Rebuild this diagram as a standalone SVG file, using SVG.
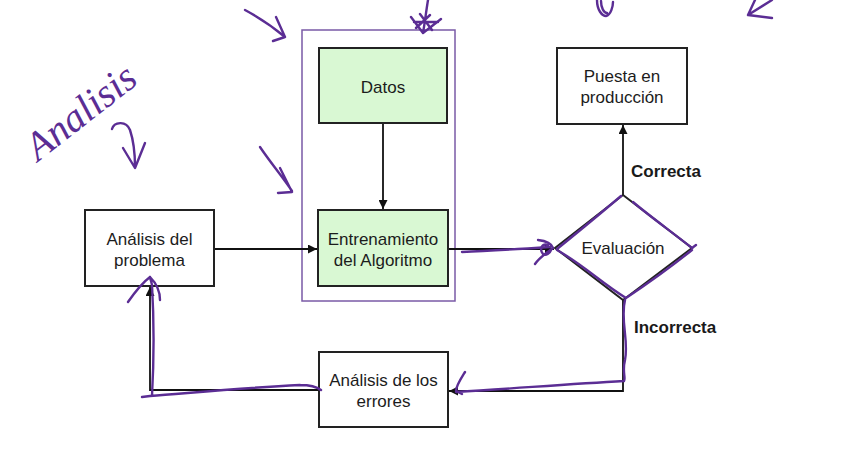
<svg xmlns="http://www.w3.org/2000/svg" width="855" height="462" viewBox="0 0 855 462">
<style>
.box{fill:#fff;stroke:#222;stroke-width:2}
.g{fill:#d9f8d3}
.t{font-family:"Liberation Sans",Arial,sans-serif;font-size:17px;fill:#1c1c1c;text-anchor:middle}
.b{font-family:"Liberation Sans",Arial,sans-serif;font-size:17px;font-weight:bold;fill:#1a1a1a}
.c{fill:none;stroke:#111;stroke-width:1.8}
.ink{fill:none;stroke:#5b2d94;stroke-width:2.4;stroke-linecap:round;stroke-linejoin:round}
</style>
<defs>
<marker id="ah" viewBox="0 0 10 10" refX="10" refY="5" markerWidth="5" markerHeight="5" orient="auto">
<path d="M0,0 L10,5 L0,10 Z" fill="#111"/>
</marker>
</defs>
<rect width="855" height="462" fill="#fff"/>
<rect id="frame" x="302" y="30" width="153" height="271" fill="none" stroke="#7a5aa6" stroke-width="1.5"/>
<g id="connectors">
<path class="c" d="M383,123 L383,209" marker-end="url(#ah)"/>
<path class="c" d="M214,249 L317,249" marker-end="url(#ah)"/>
<path class="c" d="M448,249 L554,249" marker-end="url(#ah)"/>
<path class="c" d="M623,195 L623,125" marker-end="url(#ah)"/>
<path class="c" d="M623,300 L623,391 L449,391" marker-end="url(#ah)"/>
<path class="c" d="M319,390 L150,390 L150,287" marker-end="url(#ah)"/>
</g>
<g id="datos"><rect class="box g" x="319" y="48" width="128" height="75"/><text class="t" x="383" y="93">Datos</text></g>
<g id="entrenamiento"><rect class="box g" x="318" y="210" width="130" height="76"/><text class="t" x="383" y="245">Entrenamiento</text><text class="t" x="383" y="266">del Algoritmo</text></g>
<g id="problema"><rect class="box" x="85" y="210" width="129" height="76"/><text class="t" x="149.5" y="245">Análisis del</text><text class="t" x="149.5" y="266">problema</text></g>
<g id="evaluacion"><path class="box" d="M623,195 L692,248 L623,300 L555,248 Z"/><text class="t" x="623" y="254">Evaluación</text></g>
<g id="puesta"><rect class="box" x="557" y="48" width="130" height="76"/><text class="t" x="622" y="82">Puesta en</text><text class="t" x="622" y="103">producción</text></g>
<g id="errores"><rect class="box" x="319" y="352" width="129" height="75"/><text class="t" x="383.5" y="386">Análisis de los</text><text class="t" x="383.5" y="407">errores</text></g>
<text class="b" x="631" y="177">Correcta</text>
<text class="b" x="634" y="333">Incorrecta</text>
<g id="ink">
<text x="38" y="162" transform="rotate(-38 38 162)" style="font-family:'Liberation Serif',serif;font-style:italic;font-size:40px;fill:#5b2d94">Analisis</text>
<path class="ink" d="M112,129 C114,122 126,120 130,130 C134,142 135,155 135,167 M123,148 L135,168 L145,143"/>
<path class="ink" d="M245,10 C258,17 272,26 285,37 M276,17 L285,37 L273,41"/>
<path class="ink" d="M260,147 C270,162 282,176 292,191 M280,168 L292,192 L278,193"/>
<path class="ink" d="M428,0 C426,12 425,22 423,33 M411,17 L423,33 L441,19 M414,22 L438,22 M416,28 L430,15 M420,14 L432,30"/>
<path class="ink" d="M597,0 C597,10 602,16 606,16 C611,15 613,6 613,2 M601,1 C601,8 604,13 607,13"/>
<path class="ink" d="M772,0 L748,15 L772,18 M755,0 L748,15"/>
<path class="ink" d="M462,252 C490,251 520,249 550,247 M538,240 C548,241 552,245 553,248 C546,253 539,258 535,264"/>
<path class="ink" d="M548,245 C542,243 539,249 543,254 C546,256 550,253 551,250"/>
<path class="ink" d="M557,249 C578,232 600,214 621,196 M633,202 C652,218 672,232 692,248 L696,245 M692,250 C672,266 650,282 626,298 M626,298 C600,282 585,266 557,250"/>
<path class="ink" d="M625,300 C620,320 629,340 625,360 C622,372 626,378 624,381 C570,384 520,388 456,392 M465,372 C460,380 456,386 456,391 L462,394"/>
<path class="ink" d="M300,385 C310,385 317,387 321,390 M300,385 C240,388 190,393 150,396 L142,397 M152,396 C154,360 154,320 152,285 C151,280 150,278 150,277 M128,302 C135,292 142,283 150,277 C156,283 160,292 160,300"/>
</g>
</svg>
